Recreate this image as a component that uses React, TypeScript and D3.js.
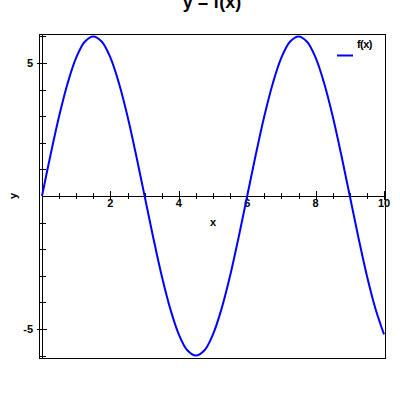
import { useEffect, useRef } from "react";
import * as d3 from "d3";

// values, every 0.25 on x
const xValues = [
  0, 0.25, 0.5, 0.75, 1, 1.25, 1.5, 1.75, 2, 2.25, 2.5, 2.75, 3, 3.25, 3.5, 3.75, 4, 4.25, 4.5, 4.75, 5,
  5.25, 5.5, 5.75, 6, 6.25, 6.5, 6.75, 7, 7.25, 7.5, 7.75, 8, 8.25, 8.5, 8.75, 9, 9.25, 9.5, 9.75, 10,
];
const yValues = [
  0, 1.55, 3.0, 4.24, 5.2, 5.8, 6.0, 5.8, 5.2, 4.24, 3.0, 1.55, 0, -1.55, -3.0, -4.24, -5.2, -5.8, -6.0, -5.8, -5.2,
  -4.24, -3.0, -1.55, 0, 1.55, 3.0, 4.24, 5.2, 5.8, 6.0, 5.8, 5.2, 4.24, 3.0, 1.55, 0, -1.55, -3.0, -4.24, -5.2,
];
const xMajorTicks = [2, 4, 6, 8, 10];
const xMinorTicks = [0.5, 1, 1.5, 2.5, 3, 3.5, 4.5, 5, 5.5, 6.5, 7, 7.5, 8.5, 9, 9.5];
const yMajorTicks = [-5, 5];
const yMinorTicks = [-6, -4, -3, -2, -1, 1, 2, 3, 4, 6];

const FONT = "'Liberation Sans', Arial, sans-serif";

export default function App() {
  const svgRef = useRef<SVGSVGElement | null>(null);

  useEffect(() => {
    const svg = d3.select(svgRef.current);
    svg.selectAll("*").remove();

    const frame = { left: 39.5, right: 385.5, top: 34.5, bottom: 358.5 };
    const x = d3.scaleLinear().domain([0, 10]).range([42, 384]);
    const y = d3.scaleLinear().domain([-6, 6]).range([355.6, 36.4]);

    // frame
    svg
      .append("rect")
      .attr("x", frame.left)
      .attr("y", frame.top)
      .attr("width", frame.right - frame.left)
      .attr("height", frame.bottom - frame.top)
      .attr("fill", "none")
      .attr("stroke", "#000")
      .attr("stroke-width", 1);

    // y axis at x = 0
    const yAxis = svg.append("g");
    yAxis
      .append("line")
      .attr("x1", Math.round(x(0)) + 0.5)
      .attr("x2", Math.round(x(0)) + 0.5)
      .attr("y1", frame.top)
      .attr("y2", frame.bottom)
      .attr("stroke", "#000");
    yAxis
      .selectAll("line.minor")
      .data(yMinorTicks)
      .join("line")
      .attr("class", "minor")
      .attr("x1", x(0) - 3)
      .attr("x2", x(0) + 4)
      .attr("y1", (d) => Math.round(y(d)) + 0.5)
      .attr("y2", (d) => Math.round(y(d)) + 0.5)
      .attr("stroke", "#000");
    yAxis
      .selectAll("line.major")
      .data(yMajorTicks)
      .join("line")
      .attr("class", "major")
      .attr("x1", x(0) - 5)
      .attr("x2", x(0) + 5)
      .attr("y1", (d) => Math.round(y(d)) + 0.5)
      .attr("y2", (d) => Math.round(y(d)) + 0.5)
      .attr("stroke", "#000");
    yAxis
      .selectAll("text")
      .data(yMajorTicks)
      .join("text")
      .attr("x", 33)
      .attr("y", (d) => y(d) + 4)
      .attr("text-anchor", "end")
      .attr("font-family", FONT)
      .attr("font-weight", "bold")
      .attr("font-size", 11)
      .text((d) => d);

    // x axis at y = 0
    const xAxis = svg.append("g");
    xAxis
      .append("line")
      .attr("x1", x(0))
      .attr("x2", frame.right)
      .attr("y1", Math.round(y(0)) + 0.5)
      .attr("y2", Math.round(y(0)) + 0.5)
      .attr("stroke", "#000");
    xAxis
      .selectAll("line.minor")
      .data(xMinorTicks)
      .join("line")
      .attr("class", "minor")
      .attr("x1", (d) => Math.round(x(d)) + 0.5)
      .attr("x2", (d) => Math.round(x(d)) + 0.5)
      .attr("y1", y(0) - 3)
      .attr("y2", y(0) + 3)
      .attr("stroke", "#000");
    xAxis
      .selectAll("line.major")
      .data(xMajorTicks)
      .join("line")
      .attr("class", "major")
      .attr("x1", (d) => Math.round(x(d)) + 0.5)
      .attr("x2", (d) => Math.round(x(d)) + 0.5)
      .attr("y1", y(0) - 5)
      .attr("y2", y(0) + 4)
      .attr("stroke", "#000");
    xAxis
      .selectAll("text")
      .data(xMajorTicks)
      .join("text")
      .attr("x", (d) => x(d))
      .attr("y", y(0) + 10.5)
      .attr("text-anchor", "middle")
      .attr("font-family", FONT)
      .attr("font-weight", "bold")
      .attr("font-size", 11)
      .text((d) => d);

    // curve
    const points = xValues.map((xv, i) => [xv, yValues[i]] as [number, number]);
    const line = d3
      .line<[number, number]>()
      .x((d) => x(d[0]))
      .y((d) => y(d[1]))
      .curve(d3.curveCatmullRom);
    svg
      .append("path")
      .datum(points)
      .attr("d", line)
      .attr("fill", "none")
      .attr("stroke", "#0000ff")
      .attr("stroke-width", 2);

    // legend
    svg
      .append("line")
      .attr("x1", 337)
      .attr("x2", 353)
      .attr("y1", 55.5)
      .attr("y2", 55.5)
      .attr("stroke", "#0000ff")
      .attr("stroke-width", 2);
    svg
      .append("text")
      .attr("x", 357)
      .attr("y", 48)
      .attr("font-family", FONT)
      .attr("font-weight", "bold")
      .attr("font-size", 11)
      .attr("letter-spacing", -0.6)
      .text("f(x)");

    // title sits partly above the page edge, as in the reference
    svg
      .append("text")
      .attr("x", 212)
      .attr("y", 8)
      .attr("text-anchor", "middle")
      .attr("font-family", FONT)
      .attr("font-weight", "bold")
      .attr("font-size", 18)
      .text("y = f(x)");
    svg
      .append("text")
      .attr("x", 213)
      .attr("y", 226)
      .attr("text-anchor", "middle")
      .attr("font-family", FONT)
      .attr("font-weight", "bold")
      .attr("font-size", 11)
      .text("x");
    svg
      .append("text")
      .attr("transform", `translate(17, 196) rotate(-90)`)
      .attr("text-anchor", "middle")
      .attr("font-family", FONT)
      .attr("font-weight", "bold")
      .attr("font-size", 11)
      .text("y");
  }, []);

  return (
    <svg
      ref={svgRef}
      width={400}
      height={400}
      style={{ position: "absolute", left: 0, top: 0, background: "#fff" }}
    />
  );
}
